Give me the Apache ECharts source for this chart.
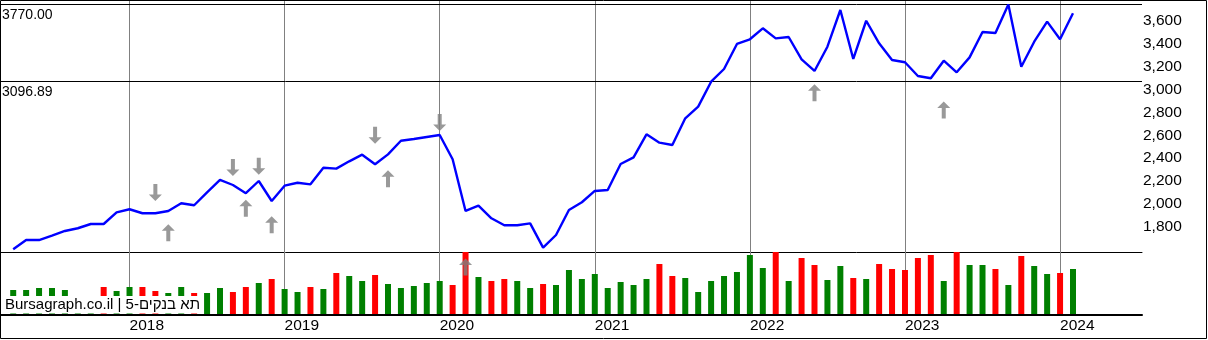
<!DOCTYPE html>
<html><head><meta charset="utf-8">
<script src="https://cdn.jsdelivr.net/npm/echarts@6/dist/echarts.min.js"></script>
<style>html,body{margin:0;padding:0;background:#fff}#c{width:1208px;height:340px}</style>
</head><body><div id="c"></div>
<script>
// ---- data (monthly) ----
const months = [
 '2017-04','2017-05','2017-06','2017-07','2017-08','2017-09','2017-10','2017-11','2017-12',
 '2018-01','2018-02','2018-03','2018-04','2018-05','2018-06','2018-07','2018-08','2018-09','2018-10','2018-11','2018-12',
 '2019-01','2019-02','2019-03','2019-04','2019-05','2019-06','2019-07','2019-08','2019-09','2019-10','2019-11','2019-12',
 '2020-01','2020-02','2020-03','2020-04','2020-05','2020-06','2020-07','2020-08','2020-09','2020-10','2020-11','2020-12',
 '2021-01','2021-02','2021-03','2021-04','2021-05','2021-06','2021-07','2021-08','2021-09','2021-10','2021-11','2021-12',
 '2022-01','2022-02','2022-03','2022-04','2022-05','2022-06','2022-07','2022-08','2022-09','2022-10','2022-11','2022-12',
 '2023-01','2023-02','2023-03','2023-04','2023-05','2023-06','2023-07','2023-08','2023-09','2023-10','2023-11','2023-12',
 '2024-01','2024-02'
];
const close = [
 1630,1711,1711,1749,1790,1814,1851,1851,1953,1980,
 1945,1945,1965,2032,2015,2128,2236,2192,2120,2227,
 2052,2186,2212,2198,2343,2335,2399,2457,2373,2460,
 2579,2594,2612,2629,2417,1965,2011,1901,1840,1840,
 1857,1644,1755,1974,2041,2140,2148,2376,2434,2635,
 2562,2542,2775,2877,3095,3206,3425,3466,3562,3474,
 3486,3291,3189,3401,3722,3294,3628,3431,3285,3265,
 3145,3125,3279,3177,3308,3530,3521,3770,3226,3445,
 3620,3466,3693
];
const volume = [
 24,24,26,26,24,12,10,27,23,27,
 27,23,21,27,21,21,26,22,27,31,
 35,25,22,27,25,41,38,33,39,30,
 26,28,31,33,29,62,37,33,35,33,
 26,30,29,44,35,40,26,32,29,35,
 50,38,36,22,33,38,42,59,46,63,
 33,56,49,34,48,36,35,50,45,44,
 56,59,33,63,49,49,45,29,58,48,
 40,41,45
];
// 1 = green bar, 0 = red bar
const volUp = [
 1,1,1,1,1,1,1,0,1,1,
 0,0,1,1,0,1,1,0,0,1,
 0,1,1,0,1,0,1,1,0,1,
 1,1,1,1,0,0,1,0,0,1,
 1,0,1,1,1,1,1,1,1,1,
 0,0,1,1,1,1,1,1,1,0,
 1,0,0,1,1,0,1,0,0,0,
 0,0,1,0,1,1,0,1,0,1,
 1,0,1
];
const yearLabels = ['2018','2019','2020','2021','2022','2023','2024'];
const refLevels = [3770.00, 3096.89];
const downMonths = ['2018-03','2018-09','2018-11','2019-08','2020-01'];
const downLevels = [2126, 2345, 2356, 2626, 2738];
const upMonths = ['2018-04','2018-10','2018-12','2019-09','2020-03','2022-06','2023-04'];
const upLevels = [1774, 1988, 1844, 2246, 1475, 2998, 2848];
const watermark = 'Bursagraph.co.il | תא בנקים-5';

// ---- build ----
const FF = "'Liberation Sans', Arial, sans-serif";
const X_MIN = -1.0214, X_MAX = 87.34;
const yearIdx = yearLabels.map(y => months.indexOf(y + '-01'));
const gridV = yearIdx.map(i => ({xAxis: i, lineStyle: {color: '#808080', width: 1, type: 'solid'}, label: {show: false}}));
const UP_PATH = 'path://M6.5 0L13 6.5L8.5 6.5L8.5 17L4.5 17L4.5 6.5L0 6.5Z';
const DOWN_PATH = 'path://M4.5 0L8.5 0L8.5 10.5L13 10.5L6.5 17L0 10.5L4.5 10.5Z';

const chart = echarts.init(document.getElementById('c'));
chart.setOption({
  animation: false,
  backgroundColor: '#fff',
  grid: [
    {left: 0, width: 1142, top: 1.07, height: 251.65},
    {left: 0, width: 1142, top: 252, height: 62}
  ],
  xAxis: [
    {gridIndex: 0, type: 'value', min: X_MIN, max: X_MAX,
     axisLine: {show: true, onZero: false, lineStyle: {color: '#000', width: 1}},
     axisTick: {show: false}, axisLabel: {show: false}, splitLine: {show: false}},
    {gridIndex: 1, type: 'value', min: X_MIN, max: X_MAX, offset: 1,
     axisLine: {show: true, onZero: false, lineStyle: {color: '#000', width: 2}},
     axisTick: {show: false}, splitLine: {show: false},
     axisLabel: {customValues: yearIdx, formatter: v => { const k = yearIdx.indexOf(v); return k >= 0 ? yearLabels[k] : ''; },
       align: 'left', margin: 3, fontSize: 15.5, color: '#000', fontFamily: FF}}
  ],
  yAxis: [
    {gridIndex: 0, type: 'value', position: 'right', min: 1600, max: 3800, interval: 200,
     axisLine: {show: false}, axisTick: {show: false}, splitLine: {show: false},
     axisLabel: {showMinLabel: false, showMaxLabel: false, margin: 1, align: 'left',
       verticalAlign: 'bottom', lineHeight: 6,
       fontSize: 15.5, color: '#000', fontFamily: FF,
       formatter: v => v.toLocaleString('en-US')}},
    {gridIndex: 1, type: 'value', min: 0, max: 62, show: false, splitLine: {show: false}}
  ],
  series: [
    {type: 'line', xAxisIndex: 0, yAxisIndex: 0, z: 3,
     data: months.map((m, i) => [i, close[i]]),
     symbol: 'none', showSymbol: false,
     lineStyle: {color: '#0000ff', width: 2.4},
     markLine: {silent: true, symbol: ['none', 'none'], z: 1, animation: false,
       data: gridV.concat(refLevels.map(v => ({yAxis: v,
         lineStyle: {color: '#000', width: 1, type: 'solid'},
         label: {show: true, position: 'insideStartBottom', distance: [2, 4], formatter: () => v.toFixed(2),
           color: '#000', fontSize: 14, fontFamily: FF}})))}},
    {type: 'bar', xAxisIndex: 1, yAxisIndex: 1, barWidth: 6, z: 2,
     data: volume.map((v, i) => ({value: [i, v], itemStyle: {color: volUp[i] ? '#008000' : '#ff0000'}})),
     markLine: {silent: true, symbol: ['none', 'none'], z: 1, animation: false, data: gridV}},
    {type: 'scatter', xAxisIndex: 0, yAxisIndex: 0, z: 4, clip: false,
     symbol: DOWN_PATH, symbolSize: [13, 17], itemStyle: {color: '#808080'},
     data: downMonths.map((m, k) => [months.indexOf(m), downLevels[k]])},
    {type: 'scatter', xAxisIndex: 0, yAxisIndex: 0, z: 4, clip: false,
     symbol: UP_PATH, symbolSize: [13, 17], itemStyle: {color: '#808080'},
     data: upMonths.map((m, k) => [months.indexOf(m), upLevels[k]])}
  ],
  graphic: [
    {type: 'text', left: 3, top: 296, z: 100, silent: true,
     style: {text: watermark, font: '15px ' + FF, fill: '#000', backgroundColor: '#fff', padding: [1, 2, 1.5, 2]}},
    {type: 'rect', z: 101, silent: true, shape: {x: 0.5, y: 0.5, width: 1206, height: 338},
     style: {fill: 'none', stroke: '#000', lineWidth: 1}}
  ]
});
</script></body></html>
